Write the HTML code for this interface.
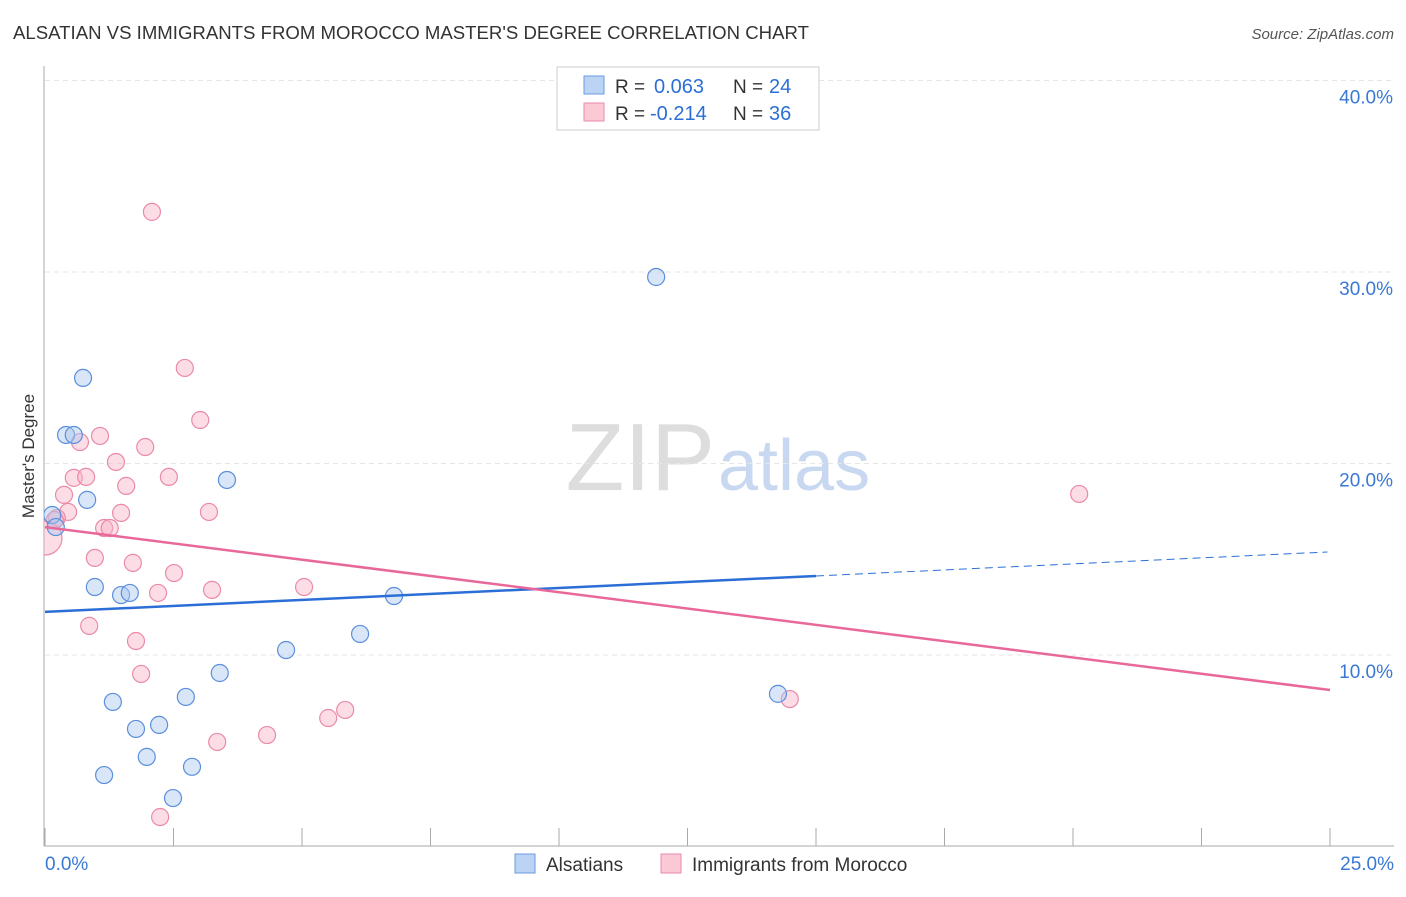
<!DOCTYPE html>
<html><head><meta charset="utf-8"><style>
body{margin:0;background:#fff;font-family:"Liberation Sans",sans-serif;}
svg text{font-family:"Liberation Sans",sans-serif;}
</style></head><body>
<svg id="c" width="1406" height="892">
<defs><clipPath id="pc"><rect x="44" y="60" width="1360" height="786"/></clipPath></defs>
<text x="13" y="39" font-size="18.6" fill="#333">ALSATIAN VS IMMIGRANTS FROM MOROCCO MASTER'S DEGREE CORRELATION CHART</text>
<text x="1394" y="39" font-size="15" fill="#555" text-anchor="end" font-style="italic">Source: ZipAtlas.com</text>
<text x="715" y="490" font-size="96" fill="#ddd" text-anchor="end" font-family="Liberation Serif">ZIP</text>
<text x="718" y="490" font-size="72" fill="#c8d8f0">atlas</text>
<g id="grid"></g><g id="axes"></g><g id="pts" clip-path="url(#pc)"></g><g id="lines"></g>
<text transform="translate(34,456) rotate(-90)" font-size="17" fill="#333" text-anchor="middle">Master's Degree</text>
<g>
<rect x="557" y="67" width="262" height="63" fill="#fff" stroke="#ccc"/>
<rect x="584" y="76" width="20" height="18" fill="#bcd4f4" stroke="#6a9ae0"/>
<rect x="584" y="103" width="20" height="18" fill="#fbc8d6" stroke="#eb8aa8"/>
<text x="615" y="93" font-size="19" fill="#333">R =</text>
<text x="654" y="93" font-size="20" fill="#2b6fd6">0.063</text>
<text x="733" y="93" font-size="19" fill="#333">N =</text>
<text x="769" y="93" font-size="20" fill="#2b6fd6">24</text>
<text x="615" y="120" font-size="19" fill="#333">R =</text>
<text x="650" y="120" font-size="20" fill="#2b6fd6">-0.214</text>
<text x="733" y="120" font-size="19" fill="#333">N =</text>
<text x="769" y="120" font-size="20" fill="#2b6fd6">36</text>
</g>
<g>
<rect x="515" y="854" width="20" height="19" fill="#bcd4f4" stroke="#6a9ae0"/>
<text x="546" y="871" font-size="19" fill="#333">Alsatians</text>
<rect x="661" y="854" width="20" height="19" fill="#fbc8d6" stroke="#eb8aa8"/>
<text x="692" y="871" font-size="19" fill="#333">Immigrants from Morocco</text>
</g>
</svg>
<script>
const blueX=[0.74,0.41,0.56,0.82,0.14,0.21,0.97,1.48,1.65,3.54,6.79,6.13,4.69,3.40,1.32,2.74,1.77,2.22,1.98,2.86,1.15,2.49,11.89,14.26];
const blueY=[24.47,21.49,21.49,18.10,17.31,16.68,13.55,13.13,13.24,19.14,13.08,11.10,10.26,9.06,7.55,7.81,6.14,6.35,4.68,4.16,3.73,2.53,29.74,7.97];
const pinkX=[2.08,2.72,3.02,1.07,0.68,1.95,1.38,0.56,0.80,2.41,1.58,0.37,0.45,1.48,3.19,0.23,1.15,1.26,0.0,0.97,1.71,2.51,2.20,3.25,5.04,0.86,1.77,1.87,5.84,5.51,3.35,4.32,2.24,20.12,14.49,0.19];
const pinkY=[33.14,24.99,22.27,21.44,21.12,20.86,20.08,19.25,19.30,19.30,18.83,18.36,17.47,17.42,17.47,17.15,16.63,16.63,16.11,15.07,14.81,14.28,13.24,13.40,13.55,11.52,10.73,9.01,7.13,6.71,5.46,5.82,1.54,18.41,7.70,17.05];
const yTicks=[10,20,30,40];
const yTickLabels=["10.0%","20.0%","30.0%","40.0%"];
const xTicks=[0,2.5,5,7.5,10,12.5,15,17.5,20,22.5,25];
const blueTrend=[12.25,15.38];
const pinkTrend=[16.68,8.17];
const sx=v=>45+v*51.4, sy=v=>846.5-v*19.15;
const NS="http://www.w3.org/2000/svg";
function mk(p,t,a){const e=document.createElementNS(NS,t);for(const k in a)e.setAttribute(k,a[k]);document.getElementById(p).appendChild(e);return e;}
yTicks.forEach((t,i)=>{
 const l=mk('grid','line',{x1:45,x2:1394,y1:sy(t),y2:sy(t),stroke:'#e6e6e6','stroke-dasharray':'5,4'});
 
 
 const tx=mk('grid','text',{x:1393,y:sy(t)+23,'font-size':19,fill:'#3a78d4','text-anchor':'end'});
 tx.textContent=yTickLabels[i];
 
 
});
const ax=mk('axes','line',{x1:44,x2:44,y1:66,y2:846,stroke:'#aaa'});


const bx=mk('axes','line',{x1:44,x2:1394,y1:846,y2:846,stroke:'#aaa'});


xTicks.forEach(t=>{const k=mk('axes','line',{x1:sx(t),x2:sx(t),y1:828,y2:846,stroke:'#aaa'});
 
 });
const x0=mk('axes','text',{x:45,y:870,'font-size':19,fill:'#3a78d4'});x0.textContent='0.0%';


const x1=mk('axes','text',{x:1394,y:870,'font-size':19,fill:'#3a78d4','text-anchor':'end'});x1.textContent='25.0%';


pinkX.forEach((v,i)=>{const c=mk('pts','circle',{cx:sx(v),cy:sy(pinkY[i]),r:(v===0?17:8.5),fill:'rgba(248,180,200,0.45)',stroke:'#eb8aa8','stroke-width':1.2});
 
 });
blueX.forEach((v,i)=>{const c=mk('pts','circle',{cx:sx(v),cy:sy(blueY[i]),r:8.5,fill:'rgba(170,200,240,0.45)',stroke:'#5b8fdc','stroke-width':1.2});
 
 });
const bm=blueTrend[0]+(blueTrend[1]-blueTrend[0])*(15/25);
const b1=mk('lines','line',{x1:sx(0),y1:sy(blueTrend[0]),x2:sx(15),y2:sy(bm),stroke:'#2b6fd6','stroke-width':2.5});


const b2=mk('lines','line',{x1:sx(15),y1:sy(bm),x2:sx(24.95),y2:sy(blueTrend[1]),stroke:'#2b6fd6','stroke-width':1,'stroke-dasharray':'8,5'});


const p1=mk('lines','line',{x1:sx(0),y1:sy(pinkTrend[0]),x2:sx(25),y2:sy(pinkTrend[1]),stroke:'#e8689a','stroke-width':2.5});


</script>
</body></html>
